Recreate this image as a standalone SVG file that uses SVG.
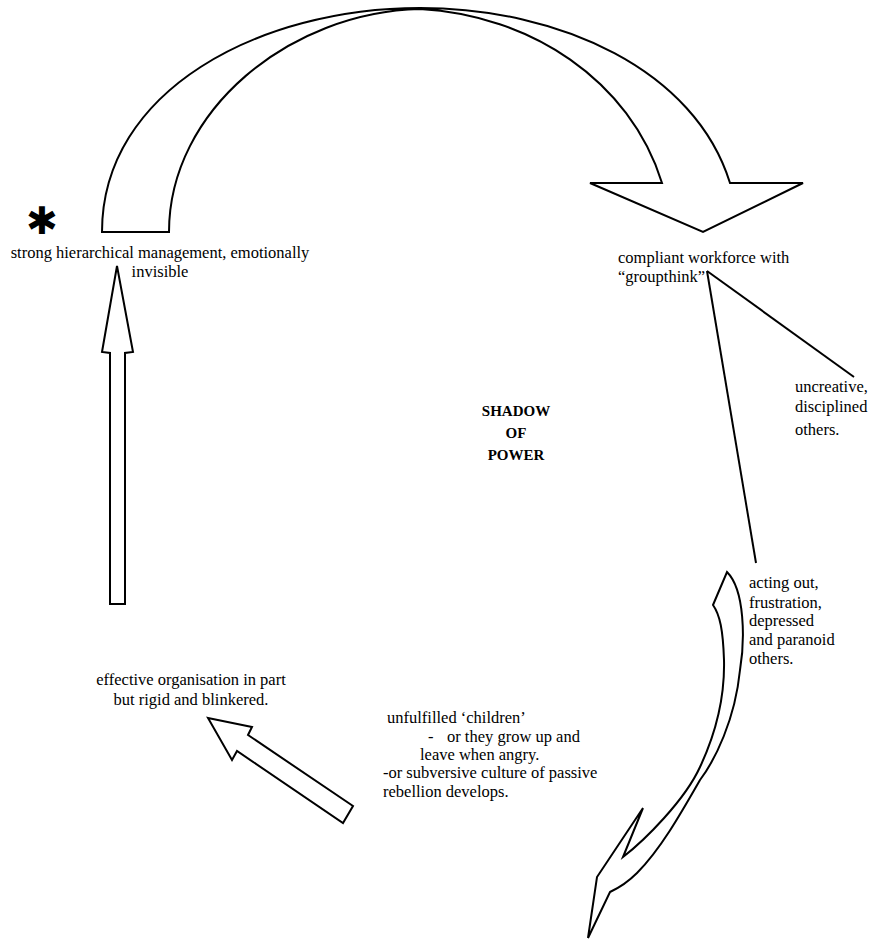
<svg xmlns="http://www.w3.org/2000/svg" width="873" height="942" viewBox="0 0 873 942">
<style>
.shape{fill:#fff;stroke:#000;stroke-width:2;stroke-linejoin:miter}
.ln{fill:none;stroke:#000;stroke-width:2}
text{font-family:"Liberation Serif","Times New Roman",serif;font-size:16.5px;fill:#000}
.b{font-weight:bold;font-size:15px}
.c{text-anchor:middle}
</style>
<rect width="873" height="942" fill="#fff"/>
<g id="connectors">
<path id="arc-top" class="shape" d="M102,232 C102,90 260,8 420,8 C560,8 695,70 730,183 L803,183 L703,232 L590,183 L662,183 C630,80 530,15 420,9 C290,12 169,110 169,232 Z"/>
<path id="arrow-up" class="shape" d="M117,266 L133,352 L125,353 L125,604 L110,604 L110,353 L102,352 Z"/>
<path id="arrow-diag" class="shape" d="M208,718 L252,727 L248,735 L353,806 L343,823 L237,751 L232,760 Z"/>
<path id="arrow-curve" class="shape" d="M727,572 C745,590 745,640 740,670 C735,720 715,760 700,780 C680,815 660,850 637,873 Q625,885 610,892 L588,938 L597,877 L643,808 L623,857 C645,840 685,800 700,767 C715,735 725,700 724,660 C723,630 720,615 713,605 Z"/>
<line class="ln" x1="707" y1="271" x2="854" y2="377"/>
<line class="ln" x1="707" y1="271" x2="756" y2="563"/>
</g>
<g id="star"><text x="42" y="234" class="c" style="font-family:'DejaVu Sans',sans-serif;font-size:38px">✱</text></g>
<g id="n-management"><text x="160" y="258" class="c">strong hierarchical management, emotionally</text><text x="160" y="277" class="c">invisible</text></g>
<g id="n-compliant"><text x="618" y="263">compliant workforce with</text><text x="618" y="282">“groupthink”</text></g>
<g id="n-uncreative"><text x="795" y="392">uncreative,</text><text x="795" y="412">disciplined</text><text x="795" y="435">others.</text></g>
<g id="n-shadow"><text x="516" y="416" class="c b">SHADOW</text><text x="516" y="438" class="c b">OF</text><text x="516" y="460" class="c b">POWER</text></g>
<g id="n-acting"><text x="749" y="588">acting out,</text><text x="749" y="608">frustration,</text><text x="749" y="626">depressed</text><text x="749" y="645">and paranoid</text><text x="749" y="664">others.</text></g>
<g id="n-effective"><text x="191" y="685" class="c">effective organisation in part</text><text x="191" y="705" class="c">but rigid and blinkered.</text></g>
<g id="n-unfulfilled"><text x="387" y="723">unfulfilled ‘children’</text><text x="428" y="742">-</text><text x="447" y="742">or they grow up and</text><text x="420" y="760">leave when angry.</text><text x="383" y="778">-or subversive culture of passive</text><text x="383" y="797">rebellion develops.</text></g>
</svg>
